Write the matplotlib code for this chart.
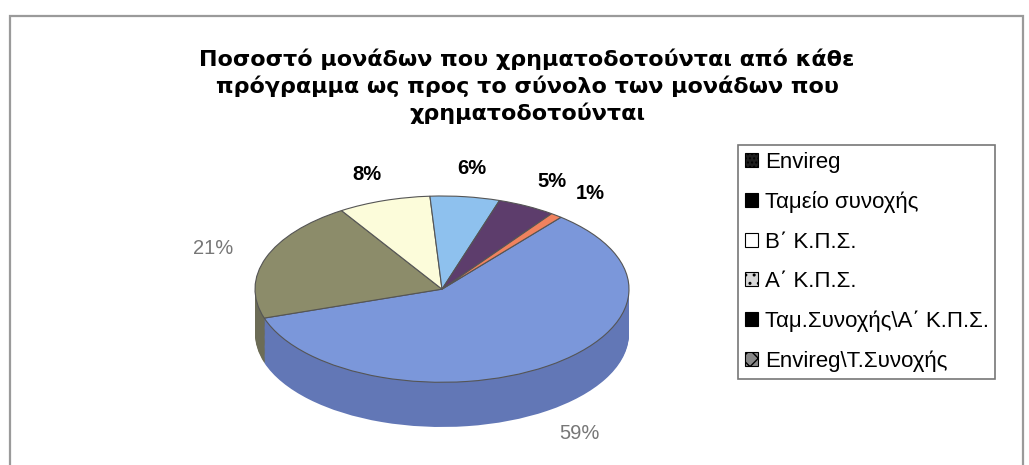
import numpy as np
import matplotlib.pyplot as plt
from matplotlib.patches import Patch, Rectangle

plt.rcParams['font.family'] = ['Liberation Sans', 'DejaVu Sans']

# data
categories = ['Envireg', 'Ταμείο συνοχής', 'Β΄ Κ.Π.Σ.', 'Α΄ Κ.Π.Σ.',
              'Ταμ.Συνοχής\\Α΄ Κ.Π.Σ.', 'Envireg\\Τ.Συνοχής']
shares = [59, 21, 8, 6, 5, 1]
pct_labels = ['59%', '21%', '8%', '6%', '5%', '1%']

top_colors = ['#7b97da', '#8c8c6a', '#fcfcda', '#8ec1ee', '#5d3d6c', '#f0825e']
side_colors = ['#6277b6', '#6c6c56', '#cfcfb0', '#6f9cc6', '#452c52', '#c2674a']
label_colors = ['#777777', '#777777', 'black', 'black', 'black', 'black']
label_weights = ['normal', 'normal', 'bold', 'bold', 'bold', 'bold']

# legend swatches as they look in the (scanned) original
legend_faces = ['#1e1e1e', 'black', 'white', '#d8d8d8', 'black', '#888888']
legend_hatch = ['....', None, None, '..', None, 'xx']

start = 50.5      # degrees, slices run clockwise
depth = 0.48      # height of the pie side, in radius units

W, H = 1029, 465
fig = plt.figure(figsize=(W / 100, H / 100), dpi=100)

# outer frame of the chart
fig.add_artist(Rectangle((10 / W, -0.05), 1013 / W, 1.05 - 16 / H,
                         transform=fig.transFigure, fill=False,
                         edgecolor='#9a9a9a', linewidth=1.6))

ax = fig.add_axes([255 / W, 38 / H, 374 / W, 231 / H])

# side of the pie: stack darker pies downward
n = 40
for k in range(n, 0, -1):
    ax.pie(shares, colors=side_colors, startangle=start, counterclock=False,
           center=(0, -depth * k / n), radius=1,
           wedgeprops=dict(linewidth=0))
# top face
ax.pie(shares, colors=top_colors, startangle=start, counterclock=False,
       radius=1, wedgeprops=dict(linewidth=0.8, edgecolor='#555555'))

ax.set_aspect('auto')
ax.set_xlim(-1, 1)
ax.set_ylim(-1 - depth, 1)
ax.axis('off')

# percentage labels outside the slices
cum = np.cumsum([0] + shares)
for i, lab in enumerate(pct_labels):
    mid = np.deg2rad(start - 360 * (cum[i] + cum[i + 1]) / 2 / 100)
    x = 1.3 * np.cos(mid)
    y = 1.3 * np.sin(mid)
    if y < 0:
        y -= depth
    ax.text(x, y, lab, ha='center', va='center', fontsize=14.5,
            color=label_colors[i], fontweight=label_weights[i])

fig.text(527 / W, 1 - 48 / H,
         'Ποσοστό μονάδων που χρηματοδοτούνται από κάθε\n'
         'πρόγραμμα ως προς το σύνολο των μονάδων που\n'
         'χρηματοδοτούνται',
         ha='center', va='top', fontsize=16, fontweight='bold',
         family='DejaVu Sans', linespacing=1.32)

handles = [Patch(facecolor=f, edgecolor='black', hatch=h, linewidth=0.8)
           for f, h in zip(legend_faces, legend_hatch)]
leg = fig.legend(handles, categories, loc='upper left',
                 bbox_to_anchor=(738 / W, 1 - 145 / H), borderaxespad=0,
                 fontsize=16, frameon=True, fancybox=False,
                 edgecolor='#555555', handlelength=0.6, handleheight=0.6,
                 handletextpad=0.3, labelspacing=0.83, borderpad=0.3)
leg.get_frame().set_linewidth(1.2)

plt.savefig('out.png', dpi=100)
